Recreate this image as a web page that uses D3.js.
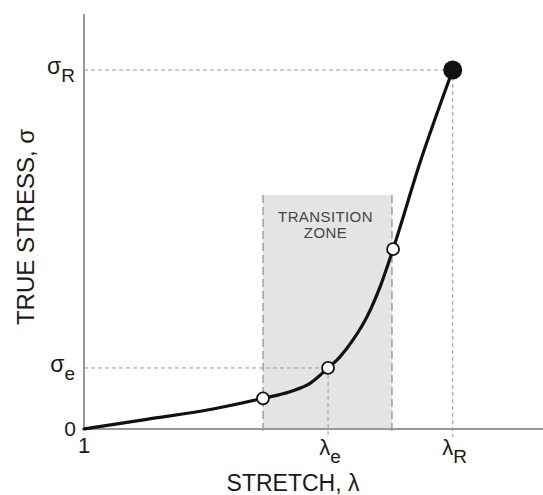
<!DOCTYPE html>
<html><head><meta charset="utf-8">
<script src="https://cdn.jsdelivr.net/npm/d3@7"></script>
<style>body{margin:0;background:#fff}svg{display:block;font-family:"Liberation Sans",Arial,sans-serif}</style>
</head><body><div id="chart"></div>
<script>
// data
const curveLambda = [1, 1.41, 1.843, 2.17, 2.346, 2.477, 2.595, 2.673, 2.758, 2.85, 2.935, 3.02, 3.2, 3.41];
const curveSigma  = [0, 0.27, 0.557, 0.855, 1.04, 1.27, 1.70, 2.01, 2.48, 3.13, 3.96, 5.01, 7.47, 10];
const openPointLambda = [2.17, 2.595, 3.02];
const openPointSigma  = [0.855, 1.70, 5.01];
const rupture = {lambda: 3.41, sigma: 10};
const zoneLambda = [2.17, 3.013];
const zoneTopSigma = 6.52;
const xTickValues = [1, 2.595, 3.41];
const xTickLabels = ["1", "λe", "λR"];
const yTickValues = [0, 1.70, 10];
const yTickLabels = ["0", "σe", "σR"];

const W = 543, H = 495;
const svg = d3.select("#chart").append("svg").attr("width", W).attr("height", H);
const x = d3.scaleLinear().domain([1, 4]).range([84, 543]);
const y = d3.scaleLinear().domain([0, 11.56]).range([429, 14]);

// transition zone
svg.append("rect").attr("x", x(zoneLambda[0])).attr("y", y(zoneTopSigma))
  .attr("width", x(zoneLambda[1]) - x(zoneLambda[0])).attr("height", y(0) - y(zoneTopSigma))
  .attr("fill", "#e4e4e4");
zoneLambda.forEach(l => svg.append("line").attr("x1", x(l)).attr("x2", x(l))
  .attr("y1", y(zoneTopSigma)).attr("y2", y(0) + 5)
  .attr("stroke", "#8a8a8a").attr("stroke-width", 1.2).attr("stroke-dasharray", "8,4"));
const zc = x((zoneLambda[0] + zoneLambda[1]) / 2) - 2;
svg.append("text").attr("x", zc).attr("y", 222)
  .attr("text-anchor", "middle").attr("font-size", 15).attr("letter-spacing", 0.4).attr("fill", "#444").text("TRANSITION");
svg.append("text").attr("x", zc).attr("y", 238)
  .attr("text-anchor", "middle").attr("font-size", 15).attr("letter-spacing", 0.4).attr("fill", "#444").text("ZONE");

// guide lines
const guide = (x1, y1, x2, y2) => svg.append("line").attr("x1", x1).attr("y1", y1).attr("x2", x2).attr("y2", y2)
  .attr("stroke", "#999").attr("stroke-width", 1).attr("stroke-dasharray", "4,3");
guide(x(1), y(rupture.sigma), x(rupture.lambda), y(rupture.sigma));
guide(x(rupture.lambda), y(rupture.sigma), x(rupture.lambda), y(0) + 8);
guide(x(1), y(yTickValues[1]), x(xTickValues[1]), y(yTickValues[1]));
guide(x(xTickValues[1]), y(yTickValues[1]), x(xTickValues[1]), y(0) + 8);

// axes
svg.append("line").attr("x1", x(1)).attr("x2", x(1)).attr("y1", 14).attr("y2", y(0))
  .attr("stroke", "#999").attr("stroke-width", 2);
svg.append("line").attr("x1", x(1)).attr("x2", W).attr("y1", y(0)).attr("y2", y(0))
  .attr("stroke", "#999").attr("stroke-width", 2);

// curve
const pts = curveLambda.map((l, i) => [l, curveSigma[i]]);
svg.append("path").datum(pts)
  .attr("d", d3.line().x(d => x(d[0])).y(d => y(d[1])).curve(d3.curveMonotoneX))
  .attr("fill", "none").attr("stroke", "#111").attr("stroke-width", 3.2).attr("stroke-linecap", "round");

// points
openPointLambda.forEach((l, i) => svg.append("circle").attr("cx", x(l)).attr("cy", y(openPointSigma[i]))
  .attr("r", 6).attr("fill", "#fff").attr("stroke", "#111").attr("stroke-width", 1.8));
svg.append("circle").attr("cx", x(rupture.lambda)).attr("cy", y(rupture.sigma)).attr("r", 9.5).attr("fill", "#111");

// tick labels
const sub = (sel, main, s) => { sel.append("tspan").text(main); sel.append("tspan").attr("font-size", 19).attr("dy", 8).text(s); };
xTickValues.forEach((v, i) => {
  const t = svg.append("text").attr("x", x(v)).attr("text-anchor", "middle").attr("font-size", 22).attr("fill", "#1a1a1a");
  const lab = xTickLabels[i];
  if (lab.length > 1) { t.attr("x", x(v) + 2).attr("y", 455); sub(t, lab[0], lab.slice(1)); }
  else t.attr("y", 453).text(lab);
});
yTickValues.forEach((v, i) => {
  const t = svg.append("text").attr("text-anchor", "end").attr("font-size", 23).attr("fill", "#1a1a1a");
  const lab = yTickLabels[i];
  if (lab.length > 1) { t.attr("x", 75).attr("y", y(v) + 4); sub(t, lab[0], lab.slice(1)); }
  else t.attr("x", 76).attr("y", y(v) + 7).attr("font-size", 21).text(lab);
});

// axis titles
svg.append("text").attr("x", 293).attr("y", 491).attr("text-anchor", "middle").attr("font-size", 23).attr("fill", "#1a1a1a").text("STRETCH, λ");
svg.append("text").attr("transform", "translate(34,227) rotate(-90)").attr("text-anchor", "middle").attr("font-size", 24).attr("fill", "#1a1a1a").text("TRUE STRESS, σ");
</script></body></html>
